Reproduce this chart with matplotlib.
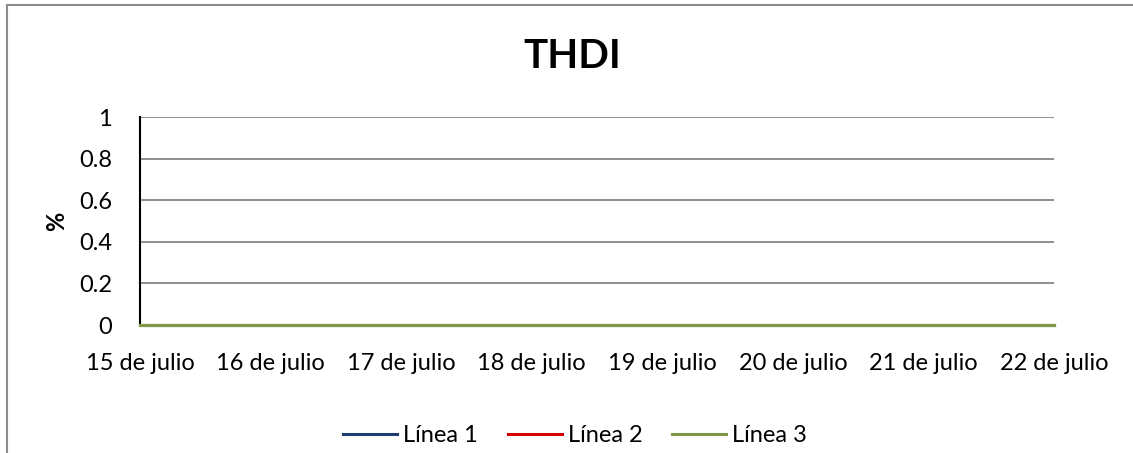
import matplotlib
matplotlib.use("Agg")
import matplotlib.pyplot as plt
from matplotlib.lines import Line2D

plt.rcParams['font.family'] = ['Lato', 'DejaVu Sans']

dias = ['15 de julio', '16 de julio', '17 de julio', '18 de julio',
        '19 de julio', '20 de julio', '21 de julio', '22 de julio']
linea1 = [0, 0, 0, 0, 0, 0, 0, 0]
linea2 = [0, 0, 0, 0, 0, 0, 0, 0]
linea3 = [0, 0, 0, 0, 0, 0, 0, 0]
yticks = [0, 0.2, 0.4, 0.6, 0.8, 1]

W, H = 1133, 453
fig = plt.figure(figsize=(W / 100, H / 100), dpi=100)
ax = fig.add_axes([140 / W, 1 - 325 / H, (1054 - 140) / W, (325 - 117) / H])

x = range(len(dias))
ax.plot(x, linea1, color='#1f3c6e', lw=2.2, label='Línea 1', clip_on=False, zorder=3)
ax.plot(x, linea2, color='#d40000', lw=2.2, label='Línea 2', clip_on=False, zorder=3)
ax.plot(x, linea3, color='#7f9a45', lw=2.2, label='Línea 3', clip_on=False, zorder=3)

ax.set_xlim(0, len(dias) - 1)
ax.set_ylim(0, 1)
ax.set_xticks(list(x))
ax.set_xticklabels(dias)
ax.set_yticks(yticks)
ax.set_yticklabels(['0', '0.2', '0.4', '0.6', '0.8', '1'])
ax.tick_params(axis='both', length=0, labelsize=17, colors='black')
ax.tick_params(axis='x', pad=20)
ax.tick_params(axis='y', pad=20)
ax.grid(axis='y', color='#868686', lw=1.3)
ax.set_axisbelow(True)
for s in ['top', 'right', 'bottom']:
    ax.spines[s].set_visible(False)
ax.spines['left'].set_color('black')
ax.spines['left'].set_linewidth(1.5)

ax.set_ylabel('%', fontsize=17, fontweight='bold', labelpad=8)
fig.text(572 / W, 1 - 57 / H, 'THDI', ha='center', va='center',
         fontsize=29, fontweight='bold')

leg = fig.legend(handles=ax.get_lines(), loc='center', ncol=3,
                 bbox_to_anchor=(575 / W, 1 - 436 / H), frameon=False,
                 fontsize=17, handlelength=2.3, handletextpad=0.25,
                 columnspacing=1.25)

# chart border (only top and left visible in crop)
fig.add_artist(Line2D([7 / W, 7 / W], [0, 1 - 5 / H], color='#8c8c8c', lw=1.5,
                      transform=fig.transFigure))
fig.add_artist(Line2D([7 / W, 1], [1 - 5 / H, 1 - 5 / H], color='#8c8c8c', lw=1.5,
                      transform=fig.transFigure))

fig.savefig('out.png', dpi=100, facecolor='white')
